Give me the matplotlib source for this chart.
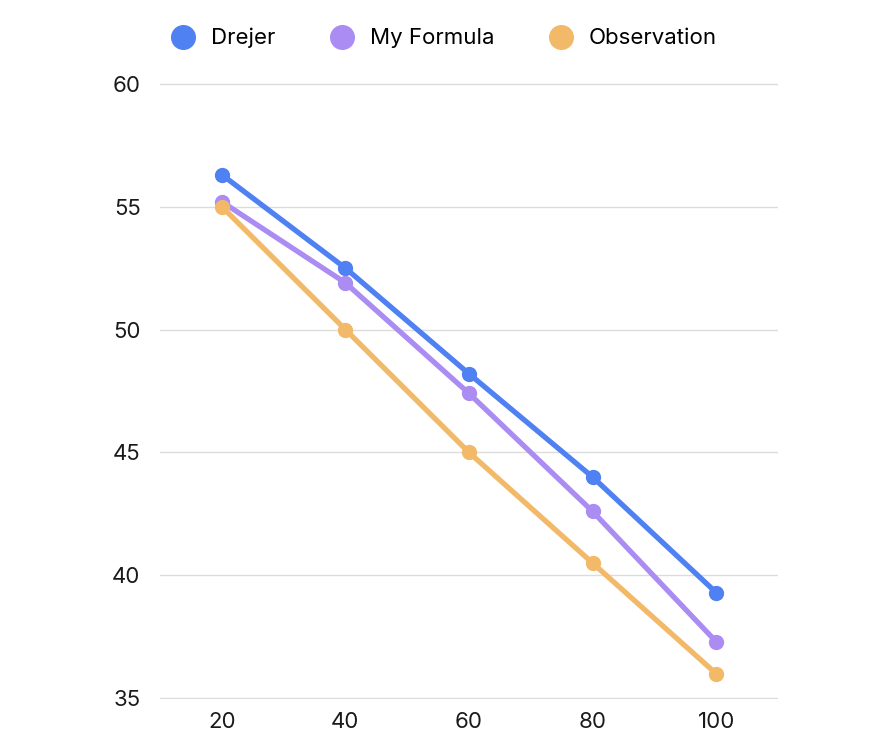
import matplotlib
matplotlib.use("Agg")
import matplotlib.pyplot as plt
from matplotlib.lines import Line2D

x_values = [20, 40, 60, 80, 100]
drejer = [56.3, 52.5, 48.2, 44.0, 39.3]
my_formula = [55.2, 51.9, 47.4, 42.6, 37.3]
observation = [55.0, 50.0, 45.0, 40.5, 36.0]

series_names = ["Drejer", "My Formula", "Observation"]
series_values = [drejer, my_formula, observation]
series_colors = ["#4f81f3", "#ab8cf2", "#f2b968"]

y_ticks = [35, 40, 45, 50, 55, 60]

plt.rcParams["font.family"] = ["Inter", "DejaVu Sans"]

fig = plt.figure(figsize=(8.96, 7.49), dpi=100)
ax = fig.add_axes([160 / 896, 50 / 749, 618 / 896, 616 / 749])

for name, vals, color in zip(series_names, series_values, series_colors):
    ax.plot(x_values, vals, color=color, linewidth=3.8, marker="o",
            markersize=10, solid_capstyle="round", label=name, zorder=3)

ax.set_xlim(10, 110)
ax.set_ylim(34.97, 60.03)
ax.set_xticks(x_values)
ax.set_yticks(y_ticks)
ax.grid(axis="y", color="#dcdcdc", linewidth=1)
ax.set_axisbelow(True)
for spine in ax.spines.values():
    spine.set_visible(False)
ax.tick_params(length=0, labelsize=16, colors="#1a1a1a")
ax.tick_params(axis="y", pad=14)
ax.tick_params(axis="x", pad=9)

handles = [Line2D([], [], linestyle="none", marker="o", markersize=17,
                  color=c) for c in series_colors]
fig.legend(handles, series_names, loc="center", bbox_to_anchor=(0.49, 0.949),
           ncol=3, frameon=False, fontsize=16, handletextpad=0.25,
           columnspacing=2.0)

fig.savefig("out.png", dpi=100)
